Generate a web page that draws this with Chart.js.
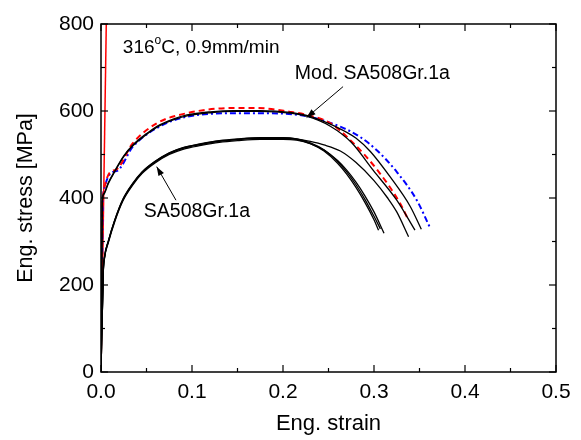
<!DOCTYPE html>
<html>
<head>
<meta charset="utf-8">
<script src="https://cdn.jsdelivr.net/npm/chart.js@4.4.1/dist/chart.umd.min.js"></script>
<style>
  html, body { margin: 0; padding: 0; background: #fff; }
</style>
</head>
<body>
<canvas id="c" width="581" height="440"></canvas>
<script>
// ---- data (strain, stress in MPa) ----
const elasticStrain = [0, 0.0058];
const elasticStress = [0, 800];

// SA508Gr.1a test curves
const sa1Strain = [0, 0.0025, 0.004, 0.008, 0.015, 0.024, 0.035, 0.045, 0.059, 0.075, 0.09, 0.11, 0.13, 0.15, 0.175, 0.2, 0.215, 0.23, 0.245, 0.26, 0.27, 0.28, 0.29, 0.3, 0.305];
const sa1Stress = [0, 230, 265, 299, 347, 395, 432, 458, 482, 502, 514, 523, 530, 534, 537, 537, 534, 525, 508, 480, 455, 425, 390, 350, 326];
const sa2Strain = [0, 0.0025, 0.004, 0.008, 0.015, 0.024, 0.035, 0.045, 0.059, 0.075, 0.09, 0.11, 0.13, 0.15, 0.175, 0.2, 0.215, 0.23, 0.245, 0.26, 0.27, 0.28, 0.29, 0.3, 0.307];
const sa2Stress = [0, 232, 267, 301, 349, 397, 434, 460, 484, 504, 516, 525, 532, 536, 539, 539, 536, 527, 511, 484, 460, 431, 397, 358, 329];
const sa3Strain = [0, 0.0025, 0.004, 0.008, 0.015, 0.024, 0.035, 0.045, 0.059, 0.075, 0.09, 0.11, 0.13, 0.15, 0.175, 0.2, 0.215, 0.23, 0.245, 0.26, 0.27, 0.28, 0.29, 0.3, 0.311];
const sa3Stress = [0, 228, 263, 297, 345, 393, 430, 456, 480, 500, 512, 521, 528, 532, 535, 535, 533, 525, 510, 486, 464, 437, 405, 368, 319];
const sa4Strain = [0, 0.0025, 0.004, 0.008, 0.015, 0.024, 0.035, 0.045, 0.059, 0.075, 0.09, 0.11, 0.13, 0.15, 0.175, 0.2, 0.215, 0.23, 0.245, 0.263, 0.28, 0.3, 0.315, 0.325, 0.338];
const sa4Stress = [0, 231, 266, 300, 348, 396, 433, 459, 483, 503, 515, 524, 531, 535, 538, 538, 536, 530, 522, 508, 482, 440, 400, 368, 311];

// Mod. SA508Gr.1a test curves
const mod1Strain = [0, 0.0015, 0.003, 0.008, 0.015, 0.025, 0.035, 0.05, 0.0615, 0.08, 0.0945, 0.12, 0.145, 0.175, 0.208, 0.226, 0.258, 0.28, 0.296, 0.3176, 0.34, 0.352];
const mod1Stress = [0, 395, 410, 435, 462, 497, 522, 548, 565, 582, 591, 598, 601, 601, 597, 590, 564, 538, 507, 449, 380, 328];
const mod2Strain = [0, 0.0015, 0.003, 0.008, 0.015, 0.025, 0.035, 0.05, 0.0615, 0.08, 0.0945, 0.12, 0.145, 0.175, 0.208, 0.226, 0.252, 0.275, 0.299, 0.325, 0.345];
const mod2Stress = [0, 393, 408, 433, 460, 495, 520, 546, 563, 580, 589, 596, 599, 599, 595, 588, 565, 528, 464, 395, 326];

// simulations
const redStrain = [0.0012, 0.0018, 0.0154, 0.035, 0.0615, 0.0945, 0.145, 0.171, 0.208, 0.226, 0.252, 0.274, 0.303, 0.3286, 0.337];
const redStress = [240, 400, 464, 526, 572, 595, 607, 607, 598, 591, 572, 533, 466, 388, 353];
const blueStrain = [0.0012, 0.002, 0.017, 0.035, 0.0615, 0.0945, 0.153, 0.175, 0.226, 0.263, 0.285, 0.304, 0.325, 0.347, 0.3615];
const blueStress = [240, 405, 462, 518, 561, 587, 595, 595, 588, 564, 540, 508, 460, 395, 332];

const toPts = (xs, ys) => xs.map((x, i) => ({ x: x, y: ys[i] }));

const FONT = '"Liberation Sans", Arial, sans-serif';

const blackLine = (xs, ys) => ({
    data: toPts(xs, ys), borderColor: '#000', borderWidth: 1.3,
    showLine: true, pointRadius: 0, cubicInterpolationMode: 'monotone'
});

const datasets = [
    blackLine(sa1Strain, sa1Stress),
    blackLine(sa2Strain, sa2Stress),
    blackLine(sa3Strain, sa3Stress),
    blackLine(sa4Strain, sa4Stress),
    blackLine(mod1Strain, mod1Stress),
    blackLine(mod2Strain, mod2Stress),
    { data: toPts(redStrain, redStress), borderColor: '#ff0000', borderWidth: 2, borderDash: [6, 4],
      showLine: true, pointRadius: 0, cubicInterpolationMode: 'monotone' },
    { data: toPts(blueStrain, blueStress), borderColor: '#0000ff', borderWidth: 2, borderDash: [6, 3, 2, 3],
      showLine: true, pointRadius: 0, cubicInterpolationMode: 'monotone' },
    { data: toPts(elasticStrain, elasticStress), borderColor: '#ff0000', borderWidth: 1.5,
      showLine: true, pointRadius: 0 }
];

// inner ticks, frame, labels and arrows
const decor = {
    id: 'decor',
    afterDraw(chart) {
        const { ctx, chartArea: a, scales: { x, y } } = chart;
        ctx.save();
        ctx.strokeStyle = '#000';
        ctx.lineWidth = 1.2;
        const xs = x.ticks.map(t => t.value);
        const ys = y.ticks.map(t => t.value);
        const tick = (px, py, dx, dy) => { ctx.beginPath(); ctx.moveTo(px, py); ctx.lineTo(px + dx, py + dy); ctx.stroke(); };
        xs.forEach((v, i) => {
            const px = x.getPixelForValue(v);
            tick(px, a.bottom, 0, -7); tick(px, a.top, 0, 7);
            if (i < xs.length - 1) {
                const pm = x.getPixelForValue((v + xs[i + 1]) / 2);
                tick(pm, a.bottom, 0, -4); tick(pm, a.top, 0, 4);
            }
        });
        ys.forEach((v, i) => {
            const py = y.getPixelForValue(v);
            tick(a.left, py, 7, 0); tick(a.right, py, -7, 0);
            if (i < ys.length - 1) {
                const pm = y.getPixelForValue((v + ys[i + 1]) / 2);
                tick(a.left, pm, 4, 0); tick(a.right, pm, -4, 0);
            }
        });
        ctx.lineWidth = 1.5;
        ctx.strokeRect(a.left, a.top, a.right - a.left, a.bottom - a.top);

        // texts
        ctx.fillStyle = '#000';
        ctx.textBaseline = 'alphabetic';
        ctx.textAlign = 'left';
        ctx.font = '19px ' + FONT;
        let tx = x.getPixelForValue(0.024), ty = y.getPixelForValue(733);
        ctx.fillText('316', tx, ty);
        tx += ctx.measureText('316').width;
        ctx.font = '12px ' + FONT;
        ctx.fillText('o', tx, ty - 9);
        tx += ctx.measureText('o').width;
        ctx.font = '19px ' + FONT;
        ctx.fillText('C, 0.9mm/min', tx, ty);

        ctx.font = '19.5px ' + FONT;
        ctx.fillText('Mod. SA508Gr.1a', x.getPixelForValue(0.213), y.getPixelForValue(673));
        ctx.fillText('SA508Gr.1a', x.getPixelForValue(0.047), y.getPixelForValue(356));

        const arrow = (x0, y0, x1, y1) => {
            const p0 = [x.getPixelForValue(x0), y.getPixelForValue(y0)];
            const p1 = [x.getPixelForValue(x1), y.getPixelForValue(y1)];
            ctx.lineWidth = 1;
            ctx.beginPath(); ctx.moveTo(p0[0], p0[1]); ctx.lineTo(p1[0], p1[1]); ctx.stroke();
            const ang = Math.atan2(p1[1] - p0[1], p1[0] - p0[0]);
            const L = 9, W = 3.2;
            ctx.beginPath();
            ctx.moveTo(p1[0], p1[1]);
            ctx.lineTo(p1[0] - L * Math.cos(ang) + W * Math.sin(ang), p1[1] - L * Math.sin(ang) - W * Math.cos(ang));
            ctx.lineTo(p1[0] - L * Math.cos(ang) - W * Math.sin(ang), p1[1] - L * Math.sin(ang) + W * Math.cos(ang));
            ctx.closePath(); ctx.fill();
        };
        arrow(0.266, 656, 0.226, 585);
        arrow(0.0824, 395, 0.0612, 472);
        ctx.restore();
    }
};

new Chart(document.getElementById('c'), {
    type: 'scatter',
    data: { datasets: datasets },
    plugins: [decor],
    options: {
        responsive: false,
        animation: false,
        layout: { padding: { left: 0, right: 25, top: 24, bottom: 0 } },
        plugins: { legend: { display: false }, tooltip: { enabled: false } },
        scales: {
            x: {
                type: 'linear', min: 0, max: 0.5,
                afterFit: s => { s.height = 68; },
                grid: { display: false, drawTicks: false },
                border: { display: false },
                ticks: { stepSize: 0.1, padding: 8, color: '#000', font: { family: FONT, size: 21 },
                         callback: v => v.toFixed(1), maxRotation: 0 },
                title: { display: true, text: 'Eng. strain', color: '#000', font: { family: FONT, size: 22 },
                         padding: { top: 0, bottom: 3 } }
            },
            y: {
                type: 'linear', min: 0, max: 800,
                afterFit: s => { s.width = 101; },
                grid: { display: false, drawTicks: false },
                border: { display: false },
                ticks: { stepSize: 200, padding: 7, color: '#000', font: { family: FONT, size: 21 } },
                title: { display: true, text: 'Eng. stress [MPa]', color: '#000', font: { family: FONT, size: 21.5 },
                         padding: { top: 13, bottom: 0 } }
            }
        }
    }
});
</script>
</body>
</html>
